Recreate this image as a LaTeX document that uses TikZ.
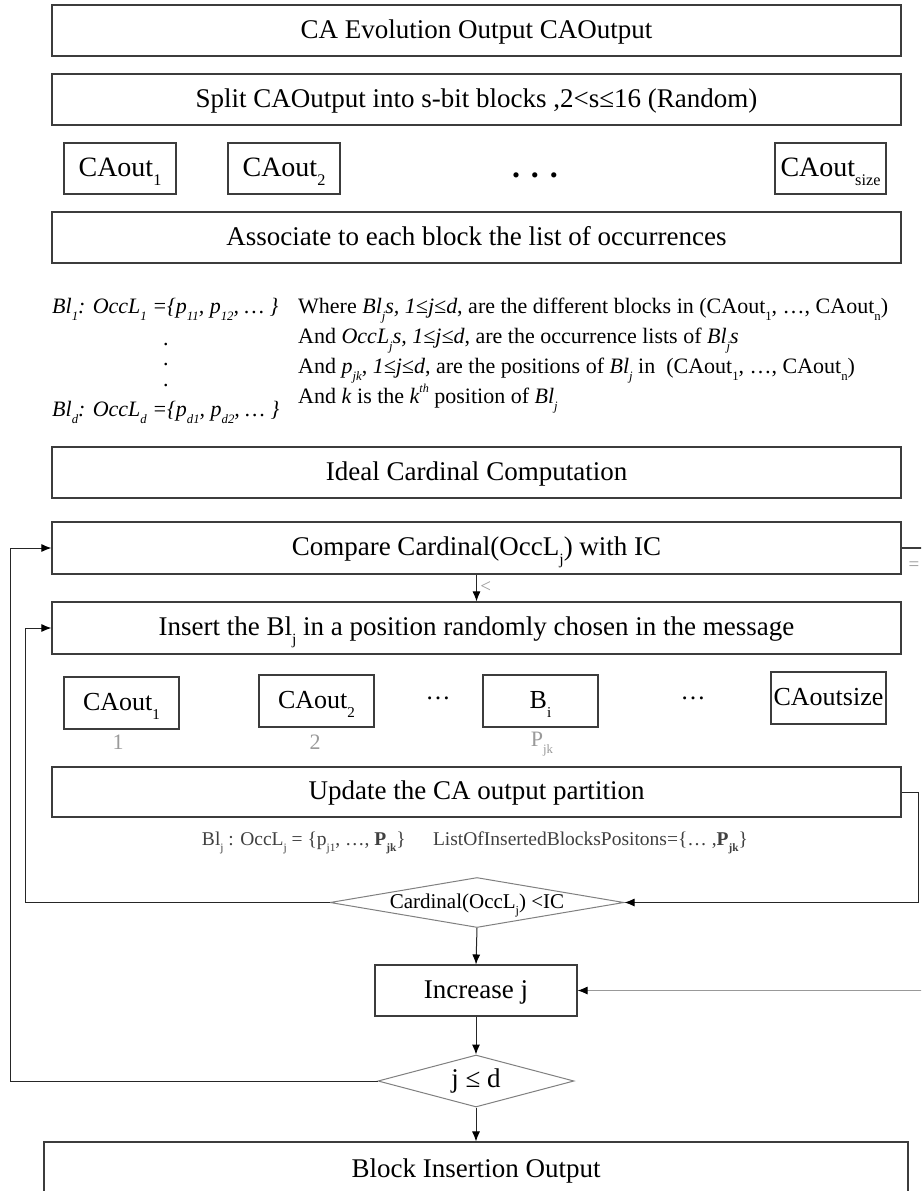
\documentclass[tikz,border=0pt]{standalone}
\usepackage{fontspec}
\setmainfont{Liberation Serif}
\usetikzlibrary{shapes.geometric,arrows.meta}
\definecolor{edge}{HTML}{3C3C3C}
\definecolor{dia}{HTML}{808080}
\definecolor{pale}{HTML}{9A9A9A}
\definecolor{note}{HTML}{404040}
\newcommand\sbs[1]{\raisebox{-0.33em}{\scalebox{0.58}{#1}}}
\newcommand\sps[1]{\raisebox{0.5em}{\scalebox{0.55}{#1}}}
\newcommand\fs[1]{\fontsize{#1}{#1}\selectfont}
\begin{document}
\begin{tikzpicture}[x=1pt,y=-1pt,
  wide/.style={draw=edge,line width=1.2pt,minimum width=849pt,minimum height=51pt,inner sep=0pt,
    text height=19pt,text depth=4pt,font=\fs{27}},
  cell/.style={draw=edge,line width=1.1pt,minimum width=112pt,minimum height=51pt,inner sep=0pt,
    text height=19pt,text depth=4pt,font=\fs{28}},
  cellb/.style={cell,minimum width=115pt,minimum height=52pt,font=\fs{26}},
  decide/.style={draw=dia,line width=1pt,diamond,inner sep=0pt},
  txt/.style={anchor=base west,inner sep=0pt,font=\fs{22}},
  poslabel/.style={text=pale,font=\fs{22},inner sep=0pt},
  arr/.style={draw=black!85,line width=1pt,-{Latex[length=10pt,width=8pt,color=black]}},
  wire/.style={draw=edge,line width=1.1pt},
  ]
\clip (0,0) rectangle (921,1191);
\fill[white] (0,0) rectangle (921,1191);

% header boxes
\node[wide] (evo) at (476.5,30.5) {CA Evolution Output CAOutput};
\node[wide] (split) at (476.5,99.5) {Split CAOutput into s-bit blocks ,2<s≤16 (Random)};

% block row
\node[cell] (t1) at (120,168.5) {CAout\sbs{1}};
\node[cell] (t2) at (284,168.5) {CAout\sbs{2}};
\node[anchor=base,font=\fs{32}\bfseries] (tdots) at (535,177) {.\hspace{11pt}.\hspace{11pt}.};
\node[cell,minimum width=111pt] (tn) at (830.5,168.5) {CAout\sbs{size}};

\node[wide] (assoc) at (476.5,237.5) {Associate to each block the list of occurrences};

% occurrence lists
\node[txt,font=\fs{22}\itshape] (occ1) at (52,313) {Bl\sbs{1}: OccL\sbs{1} =\{p\sbs{11}, p\sbs{12}, … \}};
\node[txt] (v1) at (163,345) {.};
\node[txt] (v2) at (163,365) {.};
\node[txt] (v3) at (163,386) {.};
\node[txt,font=\fs{22}\itshape] (occd) at (52,416) {Bl\sbs{d}: OccL\sbs{d} =\{p\sbs{d1}, p\sbs{d2}, … \}};

\node[txt] (w1) at (298,313) {Where \textit{Bl\sbs{j}s, 1≤j≤d}, are the different blocks in (CAout\sbs{1}, …, CAout\sbs{n})};
\node[txt] (w2) at (298,343) {And \textit{OccL\sbs{j}s, 1≤j≤d}, are the occurrence lists of \textit{Bl\sbs{j}s}};
\node[txt] (w3) at (298,373) {And \textit{p\sbs{jk}}, \textit{1≤j≤d}, are the positions of \textit{Bl\sbs{j}} in\ \ (CAout\sbs{1}, …, CAout\sbs{n})};
\node[txt] (w4) at (298,403) {And \textit{k} is the \textit{k\sps{th}} position of \textit{Bl\sbs{j}}};

\node[wide] (ideal) at (476.5,472.5) {Ideal Cardinal Computation};
\node[wide,minimum height=52pt] (cmp) at (476.5,548) {Compare Cardinal(OccL\sbs{j}) with IC};
\node[wide,minimum height=52pt] (ins) at (476.5,628) {Insert the Bl\sbs{j} in a position randomly chosen in the message};

% message after insertion
\node[cellb] (b1) at (121.5,703) {CAout\sbs{1}};
\node[cellb] (b2) at (316.5,701) {CAout\sbs{2}};
\node[font=\fs{25}] (bd1) at (438,698) {…};
\node[cellb] (bi) at (540.5,701) {B\sbs{i}};
\node[font=\fs{25}] (bd2) at (693,698) {…};
\node[cellb] (bn) at (828.5,698) {CAoutsize};
\node[poslabel] (p1) at (118,742) {1};
\node[poslabel] (p2) at (315,742) {2};
\node[poslabel] (pk) at (542,744) {P\sbs{jk}};

\node[wide,minimum height=50pt] (upd) at (476.5,792) {Update the CA output partition};
\node[font=\fs{19.5},text=note] (rec) at (475,843) {Bl\sbs{j} : OccL\sbs{j} = \{p\sbs{j1}, …, \textbf{P\sbs{jk}}\}\hspace{1.4em}ListOfInsertedBlocksPositons=\{… ,\textbf{P\sbs{jk}}\}};

% decision: cardinal test (outline and its label)
\node[decide,minimum width=294pt,minimum height=50pt] (d1) at (477,902.5) {};
\node[font=\fs{21},inner sep=0pt] (d1t) at ([yshift=-3pt]d1.center) {Cardinal(OccL\sbs{j}) <IC};
\node[draw=edge,line width=1.1pt,minimum width=202pt,minimum height=51pt,text height=19pt,text depth=4pt,font=\fs{27}] (inc) at (476,990.5) {Increase j};
\node[decide,minimum width=196pt,minimum height=52pt,aspect=3.8,font=\fs{27}] (d2) at (476,1081) {j ≤ d};
\node[draw=edge,line width=1.1pt,minimum width=864pt,minimum height=56pt,text height=19pt,text depth=4pt,font=\fs{27}] (out) at (476,1170) {Block Insertion Output};

% loop corners and free ends
\coordinate (lo) at (10,548);
\coordinate (li) at (25,628);
\coordinate (ri) at (918,792);
\coordinate (ce) at (925,548);
\coordinate (ie) at (925,990.5);

% main flow
\draw[arr] (cmp.south) -- node[right,text=pale,font=\fs{19},pos=0.45] {<} (ins.north);
\draw[arr] (d1.south) -- (inc.north);
\draw[arr] (inc.south) -- (d2.north);
\draw[arr] (d2.south) -- (out.north);

% loops back on the left
\draw[arr] (d2.west) -- (d2.west -| lo) -- (lo) -- (cmp.west);
\draw[arr] (d1.west) -- (d1.west -| li) -- (li) -- (ins.west);

% branches on the right
\draw[wire] (cmp.east) -- (ce);
\node[text=pale,font=\fs{19}] (eq) at (914,566) {=};
\draw[arr] (upd.east) -- (ri) -- (ri |- d1.east) -- (d1.east);
\draw[arr,draw=black!40] (ie) -- (inc.east);
\end{tikzpicture}
\end{document}
